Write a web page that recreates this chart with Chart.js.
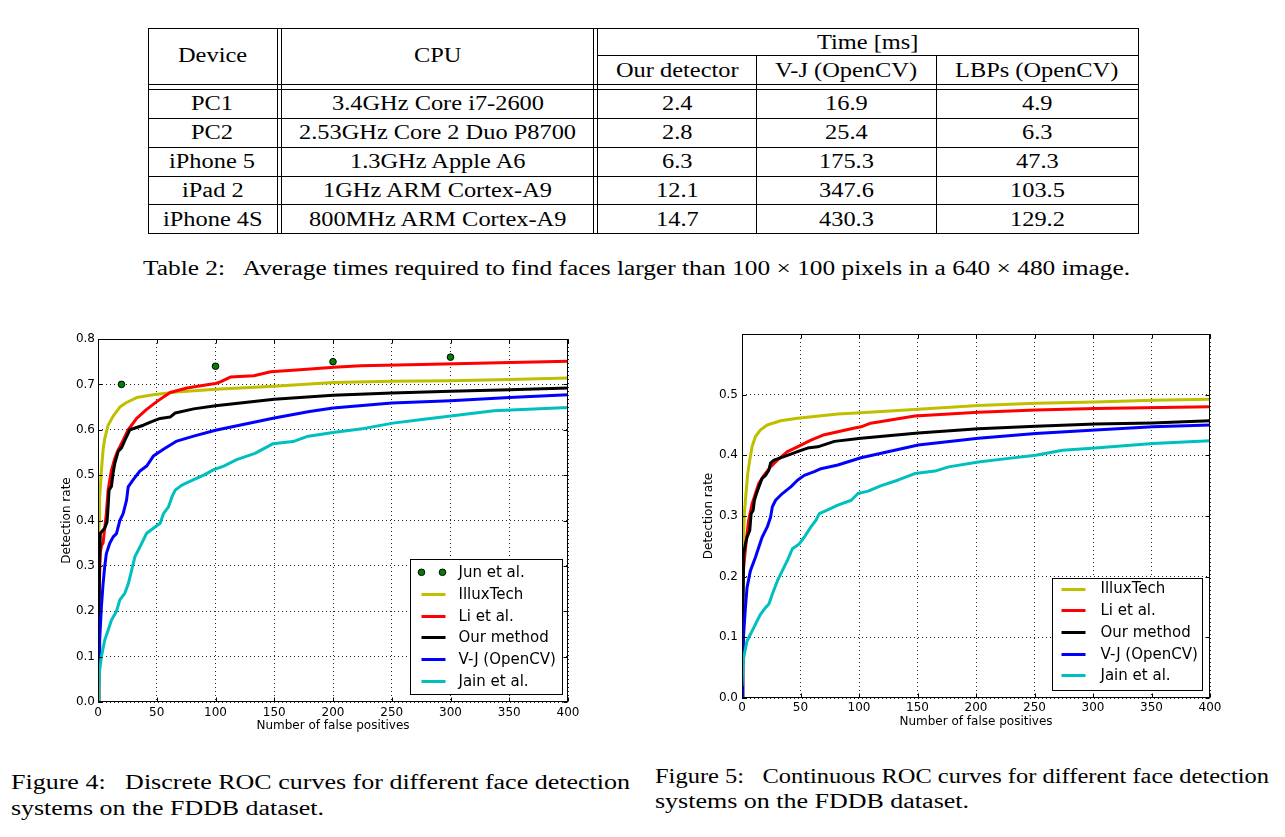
<!DOCTYPE html>
<html><head><meta charset="utf-8">
<script src="https://cdn.jsdelivr.net/npm/chart.js@4.4.0/dist/chart.umd.min.js"></script>
<style>
html,body{margin:0;padding:0;background:#fff;}
body{width:1285px;height:837px;position:relative;overflow:hidden;font-family:'Liberation Serif','Times New Roman',serif;color:#000;}
.t{position:absolute;white-space:pre;font-size:20px;line-height:30px;height:30px;transform-origin:0 50%;}
.ln{position:absolute;background:#000;}
canvas{position:absolute;}
</style></head><body>
<canvas id="c1" width="600" height="420" style="left:0px;top:320px"></canvas>
<canvas id="c2" width="600" height="420" style="left:660px;top:320px"></canvas>
<script>
// ================= DATA =================
// Table 2
const timeHeader = 'Time [ms]';
const columnHeads = ['Device', 'CPU', 'Our detector', 'V-J (OpenCV)', 'LBPs (OpenCV)'];
const devices = ['PC1', 'PC2', 'iPhone 5', 'iPad 2', 'iPhone 4S'];
const cpus = ['3.4GHz Core i7-2600', '2.53GHz Core 2 Duo P8700', '1.3GHz Apple A6', '1GHz ARM Cortex-A9', '800MHz ARM Cortex-A9'];
const ourTimes = ['2.4', '2.8', '6.3', '12.1', '14.7'];
const vjTimes = ['16.9', '25.4', '175.3', '347.6', '430.3'];
const lbpTimes = ['4.9', '6.3', '47.3', '103.5', '129.2'];
const tableCaption = 'Table 2:   Average times required to find faces larger than 100 \u00d7 100 pixels in a 640 \u00d7 480 image.';
const fig4Caption = ['Figure 4:   Discrete ROC curves for different face detection', 'systems on the FDDB dataset.'];
const fig5Caption = ['Figure 5:   Continuous ROC curves for different face detection', 'systems on the FDDB dataset.'];

// Shared axis text
const xTitle = 'Number of false positives';
const yTitle = 'Detection rate';
const xTickValues = [0, 50, 100, 150, 200, 250, 300, 350, 400];
const xTickLabels = ['0', '50', '100', '150', '200', '250', '300', '350', '400'];
const yTickValues1 = [0, 0.1, 0.2, 0.3, 0.4, 0.5, 0.6, 0.7, 0.8];
const yTickLabels1 = ['0.0', '0.1', '0.2', '0.3', '0.4', '0.5', '0.6', '0.7', '0.8'];
const yTickValues2 = [0, 0.1, 0.2, 0.3, 0.4, 0.5, 0.6];
const yTickLabels2 = ['0.0', '0.1', '0.2', '0.3', '0.4', '0.5', ''];

const seriesNames1 = ['Jun et al.', 'IlluxTech', 'Li et al.', 'Our method', 'V-J (OpenCV)', 'Jain et al.'];
const seriesNames2 = ['IlluxTech', 'Li et al.', 'Our method', 'V-J (OpenCV)', 'Jain et al.'];

// Figure 4: discrete ROC
const junX = [20, 100, 200, 300];
const junY = [0.70, 0.74, 0.75, 0.76];
const illux1X = [0.3, 0.6, 1, 1.4, 2.9, 4.3, 5.7, 8.6, 12.9, 18.6, 24.3, 33, 47, 67, 100, 150, 200, 250, 300, 350, 400];
const illux1Y = [0.34, 0.37, 0.40, 0.45, 0.51, 0.555, 0.58, 0.61, 0.63, 0.65, 0.66, 0.671, 0.677, 0.683, 0.689, 0.696, 0.704, 0.707, 0.708, 0.711, 0.714];
const li1X = [0.5, 1, 2, 3, 4.3, 7.1, 8.6, 11.4, 14.3, 17.1, 21.4, 25.7, 32.9, 41.4, 50, 61.4, 75.7, 92.9, 100, 103.7, 112.6, 132.6, 147, 175, 200.8, 223.6, 275, 332, 400];
const li1Y = [0.15, 0.25, 0.33, 0.345, 0.35, 0.415, 0.467, 0.51, 0.537, 0.555, 0.577, 0.6, 0.625, 0.645, 0.662, 0.682, 0.692, 0.699, 0.702, 0.705, 0.716, 0.719, 0.728, 0.733, 0.738, 0.741, 0.744, 0.747, 0.751];
const our1X = [0, 0.8, 1.2, 2, 5.7, 7.7, 8.6, 9.4, 11.4, 12.9, 14.3, 17.1, 20, 22.9, 27.1, 32.9, 38.6, 45.7, 52.9, 61.4, 65.7, 81.4, 100, 150, 200, 250, 300, 350, 400];
const our1Y = [0, 0.15, 0.3, 0.372, 0.383, 0.397, 0.43, 0.467, 0.475, 0.505, 0.526, 0.552, 0.56, 0.577, 0.6, 0.605, 0.61, 0.618, 0.625, 0.628, 0.637, 0.646, 0.653, 0.667, 0.676, 0.681, 0.685, 0.688, 0.692];
const vj1X = [0, 1, 1.4, 2.9, 4.3, 5.7, 7.1, 10, 12.9, 15.7, 18.6, 21.4, 24.3, 25.7, 30, 35.7, 41.4, 47.1, 55.7, 67.1, 81.4, 100, 150, 180, 200, 250, 300, 350, 400];
const vj1Y = [0, 0.09, 0.136, 0.21, 0.26, 0.298, 0.327, 0.35, 0.364, 0.371, 0.4, 0.415, 0.445, 0.474, 0.49, 0.509, 0.52, 0.542, 0.557, 0.575, 0.586, 0.599, 0.626, 0.64, 0.648, 0.659, 0.664, 0.671, 0.677];
const jain1X = [0, 0.5, 1.4, 2.9, 5.7, 8.6, 11.4, 15.7, 18.6, 22.9, 25.7, 28.6, 31.4, 35.7, 38.6, 41.4, 47.1, 52.9, 55.7, 60, 62.9, 65.7, 71.4, 81.4, 90, 98.6, 107, 118, 133.6, 148.6, 166, 177.7, 200, 226.6, 251, 274, 302, 337, 400];
const jain1Y = [0, 0.033, 0.07, 0.1, 0.136, 0.158, 0.18, 0.2, 0.225, 0.24, 0.26, 0.29, 0.32, 0.342, 0.357, 0.372, 0.383, 0.394, 0.415, 0.43, 0.452, 0.467, 0.478, 0.49, 0.5, 0.512, 0.52, 0.534, 0.548, 0.569, 0.574, 0.585, 0.594, 0.603, 0.6146, 0.622, 0.631, 0.642, 0.649];

// Figure 5: continuous ROC
const illux2X = [0, 0.9, 2, 3.4, 4.9, 6.6, 8.6, 11.5, 15.8, 21.6, 33, 47.4, 61.8, 81.9, 101.7, 150.6, 202, 251, 302, 351, 400];
const illux2Y = [0.2, 0.243, 0.304, 0.337, 0.37, 0.392, 0.414, 0.431, 0.442, 0.45, 0.457, 0.461, 0.464, 0.468, 0.470, 0.476, 0.482, 0.486, 0.488, 0.491, 0.4925];
const li2X = [0, 0.9, 2, 3.7, 5.7, 8.6, 11.5, 14.4, 18.7, 24.4, 30.2, 38.8, 47.4, 58.9, 70.4, 81.9, 96.3, 101.7, 110, 147.7, 202, 251, 302, 400];
const li2Y = [0.08, 0.204, 0.227, 0.26, 0.293, 0.32, 0.337, 0.354, 0.367, 0.381, 0.392, 0.406, 0.414, 0.425, 0.434, 0.439, 0.445, 0.447, 0.453, 0.465, 0.471, 0.4747, 0.477, 0.480];
const our2X = [0, 0.7, 1.4, 2.9, 4.3, 6.6, 7.8, 9.5, 10.6, 12.4, 14.4, 17.2, 20.1, 23, 24.4, 27.3, 31.6, 38.8, 47.4, 56, 64.7, 79, 101.7, 150.6, 202, 251, 302, 351, 400];
const our2Y = [0, 0.12, 0.238, 0.254, 0.265, 0.276, 0.304, 0.309, 0.326, 0.337, 0.348, 0.362, 0.367, 0.376, 0.387, 0.392, 0.395, 0.4, 0.406, 0.412, 0.414, 0.423, 0.428, 0.437, 0.444, 0.448, 0.4515, 0.4533, 0.457];
const vj2X = [0, 0.6, 1.4, 2.9, 4.3, 7.2, 11.5, 14.4, 17.2, 21.6, 24.4, 25.9, 28.7, 34.5, 41.7, 47.4, 53.2, 61.8, 67.5, 81.9, 101.7, 150.6, 202, 251, 302, 351, 400];
const vj2Y = [0, 0.055, 0.105, 0.149, 0.182, 0.21, 0.232, 0.249, 0.265, 0.282, 0.298, 0.315, 0.326, 0.337, 0.348, 0.359, 0.367, 0.373, 0.378, 0.384, 0.396, 0.417, 0.428, 0.436, 0.4416, 0.447, 0.45];
const jain2X = [0, 0.9, 2, 4.3, 7.2, 10.1, 12.9, 15.8, 20.1, 23, 25.9, 30.2, 34.5, 38.8, 43.1, 48.9, 53.2, 58.9, 63.2, 66.1, 71.8, 81.9, 93.4, 99.1, 107.8, 119, 133, 147.7, 165, 176.6, 202, 228, 251, 274, 302, 351, 400];
const jain2Y = [0.02, 0.06, 0.072, 0.094, 0.105, 0.116, 0.127, 0.138, 0.149, 0.155, 0.171, 0.193, 0.21, 0.227, 0.246, 0.254, 0.265, 0.282, 0.293, 0.304, 0.309, 0.318, 0.326, 0.337, 0.341, 0.35, 0.359, 0.37, 0.374, 0.381, 0.389, 0.395, 0.400, 0.4085, 0.412, 0.4195, 0.424];

// ================= TABLE / CAPTIONS (HTML text) =================
function addText(s, x, cy, align, k) {
  const d = document.createElement('div');
  d.className = 't';
  d.textContent = s;
  document.body.appendChild(d);
  const w = d.getBoundingClientRect().width;
  const sw = w * k;
  const left = align === 'c' ? x - sw / 2 : x;
  d.style.left = left + 'px';
  d.style.top = (cy - 15) + 'px';
  d.style.transform = 'scaleX(' + k + ')';
}
function measure(s) {
  const d = document.createElement('div');
  d.className = 't'; d.textContent = s; document.body.appendChild(d);
  const w = d.getBoundingClientRect().width; d.remove(); return w;
}
function fitText(s, x, cy, targetW) { addText(s, x, cy, 'l', targetW / measure(s)); }
function hline(x1, x2, y) { const d = document.createElement('div'); d.className = 'ln'; d.style.cssText = `left:${x1}px;top:${y}px;width:${x2 - x1}px;height:1px`; document.body.appendChild(d); }
function vline(x, y1, y2) { const d = document.createElement('div'); d.className = 'ln'; d.style.cssText = `left:${x}px;top:${y1}px;width:1px;height:${y2 - y1}px`; document.body.appendChild(d); }

function buildTable() {
  const K = 212 / measure(cpus[0]);
  const colX = [212.5, 437.5, 677, 846, 1037];
  const rowY = [103.3, 132.2, 161.2, 190, 218.5];
  const L = 148, R = 1138;
  [28, 84, 89, 117.7, 146.7, 175.7, 204.3, 232.7].forEach(y => hline(L, R + 1, Math.round(y)));
  hline(598, R + 1, 55);
  [L, 277, 281, 593, 597, R].forEach(x => vline(x, 28, 233));
  [756, 936].forEach(x => vline(x, 55, 233));
  addText(columnHeads[0], colX[0], 55, 'c', K);
  addText(columnHeads[1], colX[1], 55, 'c', K);
  addText(timeHeader, (598 + R) / 2, 41.7, 'c', K);
  for (let c = 2; c < 5; c++) addText(columnHeads[c], colX[c], 70, 'c', K);
  const cols = [devices, cpus, ourTimes, vjTimes, lbpTimes];
  for (let r = 0; r < devices.length; r++)
    for (let c = 0; c < 5; c++) addText(cols[c][r], colX[c], rowY[r], 'c', K);
  fitText(tableCaption, 143, 268, 987);
  fitText(fig4Caption[0], 11, 782, 619);
  fitText(fig4Caption[1], 11, 808, 313);
  fitText(fig5Caption[0], 655, 775.5, 614);
  fitText(fig5Caption[1], 655, 801, 314);
}
buildTable();

// ================= CHARTS =================
Chart.defaults.font.family = "'DejaVu Sans', sans-serif";
Chart.defaults.color = '#000';

const colors = { illux: '#bfbf00', li: '#ff0000', our: '#000000', vj: '#0000ff', jain: '#00bfbf', jun: '#008000' };
const pts = (xs, ys) => xs.map((x, i) => ({ x: x, y: ys[i] }));
const lineDs = (label, xs, ys, color, order) => ({
  label, data: pts(xs, ys), showLine: true, borderColor: color, backgroundColor: color,
  borderWidth: 3, pointRadius: 0, pointHoverRadius: 0, tension: 0, fill: false,
  borderJoinStyle: 'round', borderCapStyle: 'butt', order
});

const mplDecor = {
  id: 'mplDecor',
  afterDraw(chart, args, o) {
    const ctx = chart.ctx, a = chart.chartArea;
    const xs = chart.scales.x, ys = chart.scales.y;
    ctx.save();
    // frame
    ctx.strokeStyle = '#000'; ctx.lineWidth = 1; ctx.setLineDash([]);
    const l = Math.round(a.left) + 0.5, t = Math.round(a.top) + 0.5, r = Math.round(a.right) - 0.5, b = Math.round(a.bottom) - 0.5;
    ctx.strokeRect(l, t, r - l, b - t);
    // inward ticks on all sides
    ctx.beginPath();
    xs.ticks.forEach(tk => { const p = Math.round(xs.getPixelForValue(tk.value)) + 0.5; ctx.moveTo(p, b); ctx.lineTo(p, b - 4); ctx.moveTo(p, t); ctx.lineTo(p, t + 4); });
    ys.ticks.forEach(tk => { const p = Math.round(ys.getPixelForValue(tk.value)) + 0.5; ctx.moveTo(l, p); ctx.lineTo(l + 4, p); ctx.moveTo(r, p); ctx.lineTo(r - 4, p); });
    ctx.stroke();
    // axis titles
    ctx.fillStyle = '#000'; ctx.font = "12px 'DejaVu Sans'"; ctx.textAlign = 'center'; ctx.textBaseline = 'middle';
    ctx.fillText(xTitle, (a.left + a.right) / 2, a.bottom + o.xTitleDy);
    ctx.save(); ctx.translate(a.left - o.yTitleDx, (a.top + a.bottom) / 2); ctx.rotate(-Math.PI / 2); ctx.fillText(yTitle, 0, 0); ctx.restore();
    // legend box
    const bx = Math.round(a.right - o.legLeft) + 0.5, by = Math.round(a.bottom - o.legTop) + 0.5;
    ctx.fillStyle = '#fff'; ctx.fillRect(bx, by, o.legW, o.legH);
    ctx.strokeStyle = '#000'; ctx.lineWidth = 1; ctx.strokeRect(bx, by, o.legW, o.legH);
    ctx.font = "15px 'DejaVu Sans'"; ctx.textAlign = 'left'; ctx.textBaseline = 'middle';
    chart.data.datasets.forEach((ds, i) => {
      const y = a.bottom - o.legRow0 + i * o.legDy;
      if (ds.showLine) {
        ctx.strokeStyle = ds.borderColor; ctx.lineWidth = 3; ctx.beginPath();
        ctx.moveTo(bx + o.lx1, Math.round(y) + 0.5); ctx.lineTo(bx + o.lx2, Math.round(y) + 0.5); ctx.stroke();
      } else {
        [o.lx1, o.lx2 - 3].forEach(mx => { ctx.beginPath(); ctx.arc(bx + mx, y, 3.3, 0, Math.PI * 2); ctx.fillStyle = ds.pointBackgroundColor; ctx.fill(); ctx.lineWidth = 1; ctx.strokeStyle = '#000'; ctx.stroke(); });
      }
      ctx.fillStyle = '#000';
      ctx.fillText(ds.label, bx + o.tx, y + 1);
    });
    ctx.restore();
  }
};

function axisCfg(min, max, values, labels, isX, pad, size) {
  return {
    type: 'linear', min, max,
    afterBuildTicks: s => { s.ticks = values.map(v => ({ value: v })); },
    afterFit: s => { if (isX) s.height = size; else s.width = size; },
    ticks: { font: { size: 12 }, color: '#000', padding: pad, maxRotation: 0, autoSkip: false,
      callback: (v, i) => labels[i] },
    grid: { color: '#222', lineWidth: 1, drawTicks: false },
    border: { display: false, dash: [1, 3] }
  };
}

function makeChart(id, datasets, c) {
  return new Chart(document.getElementById(id), {
    type: 'scatter',
    data: { datasets },
    options: {
      responsive: false, animation: false, devicePixelRatio: 1, events: [],
      layout: { padding: { left: 0, right: c.padR, top: c.padT, bottom: 0 } },
      plugins: { legend: { display: false }, tooltip: { enabled: false }, mplDecor: c.decor },
      scales: {
        x: axisCfg(0, 400, xTickValues, xTickLabels, true, c.xPad, c.xH),
        y: axisCfg(0, c.yMax, c.yVals, c.yLabels, false, c.yPad, c.yW)
      }
    },
    plugins: [mplDecor]
  });
}

const ds1 = [
  { label: seriesNames1[0], data: pts(junX, junY), showLine: false, pointRadius: 3.3, pointBackgroundColor: colors.jun,
    pointBorderColor: '#000', pointBorderWidth: 1, borderColor: colors.jun, order: 7 },
  lineDs(seriesNames1[1], illux1X, illux1Y, colors.illux, 6),
  lineDs(seriesNames1[2], li1X, li1Y, colors.li, 5),
  lineDs(seriesNames1[3], our1X, our1Y, colors.our, 4),
  lineDs(seriesNames1[4], vj1X, vj1Y, colors.vj, 3),
  lineDs(seriesNames1[5], jain1X, jain1Y, colors.jain, 2)
];
makeChart('c1', ds1, {
  padR: 32, padT: 19, xH: 38, yW: 98, xPad: 4, yPad: 3, yMax: 0.8, yVals: yTickValues1, yLabels: yTickLabels1,
  decor: { xTitleDy: 24, yTitleDx: 31, legLeft: 158.5, legTop: 143, legW: 152, legH: 135, legRow0: 129.7, legDy: 21.7, lx1: 11, lx2: 35, tx: 48 }
});

const ds2 = [
  lineDs(seriesNames2[0], illux2X, illux2Y, colors.illux, 6),
  lineDs(seriesNames2[1], li2X, li2Y, colors.li, 5),
  lineDs(seriesNames2[2], our2X, our2Y, colors.our, 4),
  lineDs(seriesNames2[3], vj2X, vj2Y, colors.vj, 3),
  lineDs(seriesNames2[4], jain2X, jain2Y, colors.jain, 2)
];
makeChart('c2', ds2, {
  padR: 50, padT: 14, xH: 42, yW: 82, xPad: 3, yPad: 4, yMax: 0.6, yVals: yTickValues2, yLabels: yTickLabels2,
  decor: { xTitleDy: 24, yTitleDx: 33, legLeft: 158, legTop: 120.5, legW: 150, legH: 112, legRow0: 109.4, legDy: 21.7, lx1: 9, lx2: 33, tx: 48 }
});
</script>
</body></html>
